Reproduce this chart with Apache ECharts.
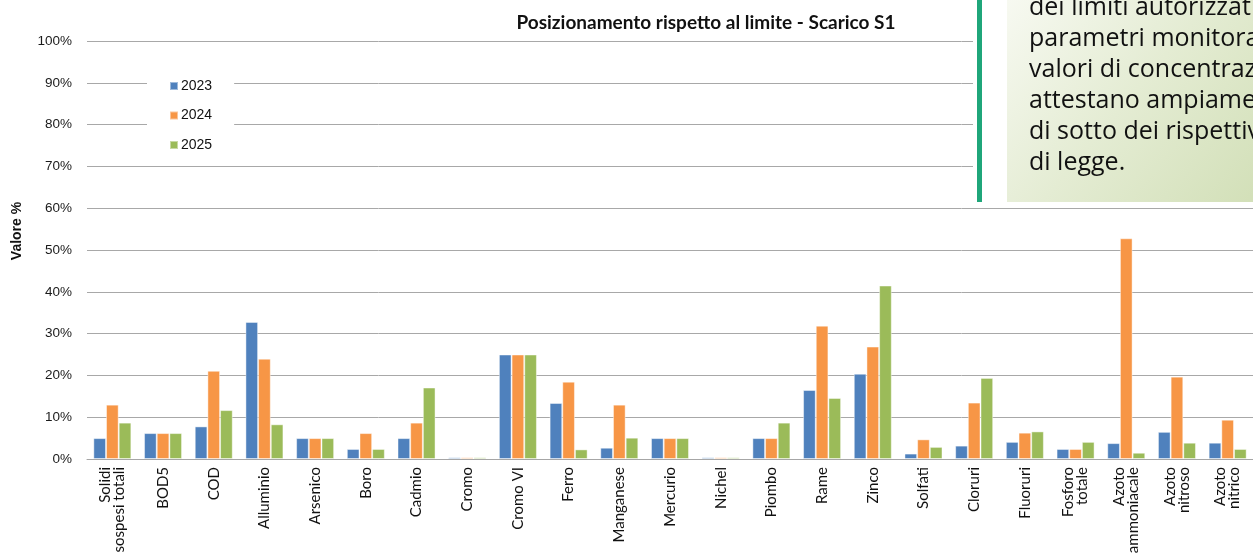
<!DOCTYPE html>
<html>
<head>
<meta charset="utf-8">
<script src="https://cdn.jsdelivr.net/npm/echarts@6/dist/echarts.min.js"></script>
<style>
  html, body { margin: 0; padding: 0; background: #fff; }
  #chart { width: 1253px; height: 557px; }
</style>
</head>
<body>
<div id="chart"></div>
<script>
// Parametri monitorati allo scarico S1
const categories = [
  'Solidi\nsospesi totali', 'BOD5', 'COD', 'Alluminio', 'Arsenico', 'Boro', 'Cadmio',
  'Cromo', 'Cromo VI', 'Ferro', 'Manganese', 'Mercurio', 'Nichel', 'Piombo', 'Rame',
  'Zinco', 'Solfati', 'Cloruri', 'Fluoruri', 'Fosforo\ntotale', 'Azoto\nammoniacale',
  'Azoto\nnitroso', 'Azoto\nnitrico'
];

// Valore misurato in percentuale del limite autorizzato
const years = ['2023', '2024', '2025'];
const values2023 = [5, 6.2, 7.8, 32.8, 5, 2.4, 5, 0.4, 25, 13.4, 2.7, 5, 0.4, 5, 16.5, 20.4, 1.3, 3.2, 4.1, 2.4, 3.8, 6.5, 3.9];
const values2024 = [13, 6.2, 21.1, 24, 5, 6.2, 8.7, 0.4, 25, 18.5, 13, 5, 0.4, 5, 31.9, 26.9, 4.7, 13.5, 6.3, 2.4, 52.8, 19.7, 9.4];
const values2025 = [8.7, 6.2, 11.7, 8.3, 5, 2.4, 17.1, 0.4, 25, 2.3, 5.1, 5, 0.4, 8.7, 14.6, 41.5, 2.9, 19.4, 6.6, 4.1, 1.5, 3.9, 2.4];

const yTicks = { min: 0, max: 100, step: 10 };

const chartTitle = 'Posizionamento rispetto al limite - Scarico S1';
const yAxisTitle = 'Valore %';
const noteLines = [
  'dei limiti autorizzati',
  'parametri monitorati',
  'valori di concentrazione',
  'attestano ampiamente',
  'di sotto dei rispettivi',
  'di legge.'
];

const colors = ['#4f81bd', '#f79646', '#9bbb59'];
const seriesValues = [values2023, values2024, values2025];

const chart = echarts.init(document.getElementById('chart'), null, { renderer: 'canvas' });

const noteText = noteLines.map((line, i) => ({
  type: 'text',
  x: 1029,
  y: 8 + i * 31,
  z: 102,
  style: {
    text: line,
    fill: '#111',
    font: '25px "Open Sans", sans-serif',
    textAlign: 'left',
    textVerticalAlign: 'middle'
  }
}));

const option = {
  animation: false,
  color: colors,
  grid: { left: 87, top: 41, width: 1173, height: 418, containLabel: false },
  legend: {
    orient: 'vertical',
    left: 147,
    top: 72,
    padding: [6, 22, 6, 22],
    backgroundColor: '#ffffff',
    itemWidth: 8,
    itemHeight: 8,
    itemGap: 13.5,
    icon: 'rect',
    data: years,
    textStyle: { fontFamily: 'Liberation Sans', fontSize: 14, lineHeight: 16, color: '#111', padding: [0, 0, 0, -2] }
  },
  xAxis: {
    type: 'category',
    data: categories,
    axisTick: { show: false },
    axisLine: { lineStyle: { color: '#a6a6a6', width: 1 } },
    axisLabel: {
      interval: 0,
      rotate: 90,
      margin: 8,
      fontFamily: 'Lato',
      fontSize: 15,
      lineHeight: 14,
      color: '#111'
    }
  },
  yAxis: {
    type: 'value',
    min: yTicks.min,
    max: yTicks.max,
    interval: yTicks.step,
    axisLine: { show: false },
    axisTick: { show: false },
    splitLine: { lineStyle: { color: '#a8a8a8', width: 1 } },
    axisLabel: {
      formatter: '{value}%',
      margin: 15,
      fontFamily: 'Liberation Sans',
      fontSize: 13.5,
      color: '#1a1a1a'
    }
  },
  series: years.map((y, i) => ({
    name: y,
    type: 'bar',
    data: seriesValues[i],
    barGap: '0%',
    barCategoryGap: '25%',
    itemStyle: { color: colors[i], borderColor: 'rgba(255,255,255,0.45)', borderWidth: 1 }
  })),
  graphic: [
    {
      type: 'text',
      x: 706,
      y: 23,
      z: 110,
      style: {
        text: chartTitle,
        fill: '#111',
        font: 'bold 19px Lato, sans-serif',
        textAlign: 'center',
        textVerticalAlign: 'middle'
      }
    },
    {
      type: 'text',
      x: 17,
      y: 231,
      rotation: Math.PI / 2,
      style: {
        text: yAxisTitle,
        fill: '#111',
        font: 'bold 14px "Liberation Sans", sans-serif',
        textAlign: 'center',
        textVerticalAlign: 'middle'
      }
    },
    // Riquadro di commento in alto a destra
    {
      type: 'rect',
      shape: { x: 973, y: 0, width: 290, height: 204 },
      z: 100,
      style: { fill: '#ffffff' }
    },
    {
      type: 'rect',
      shape: { x: 977, y: 0, width: 5, height: 202 },
      z: 101,
      style: { fill: '#1fa67a' }
    },
    {
      type: 'rect',
      shape: { x: 1007, y: 0, width: 300, height: 202 },
      z: 101,
      style: {
        fill: new echarts.graphic.LinearGradient(0, 0, 0.8, 1, [
          { offset: 0, color: '#f7f9f1' },
          { offset: 0.5, color: '#e4ecd3' },
          { offset: 1, color: '#d3e0b9' }
        ])
      }
    }
  ].concat(noteText)
};

chart.setOption(option);
</script>
</body>
</html>
